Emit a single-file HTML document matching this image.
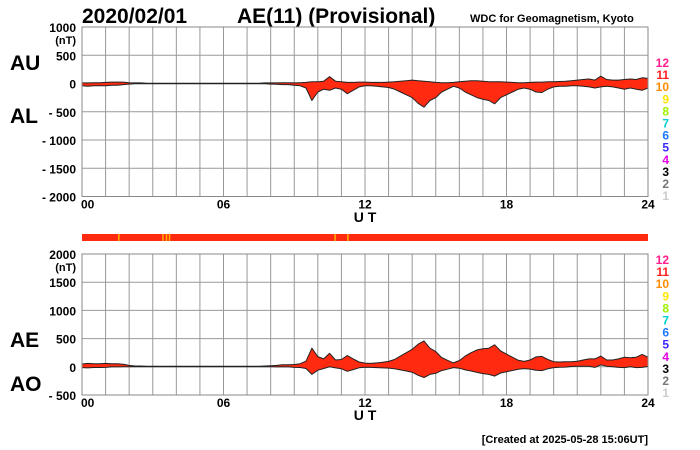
<!DOCTYPE html>
<html><head><meta charset="utf-8"><style>
body{margin:0;background:#fff;width:700px;height:450px;overflow:hidden}
svg{display:block;font-family:"Liberation Sans",Arial,sans-serif}
</style></head><body>
<svg id="chart" width="700" height="450" viewBox="0 0 700 450">
<text x="82" y="23" font-size="21" font-weight="bold">2020/02/01</text>
<text x="237" y="23" font-size="21" font-weight="bold">AE(11) (Provisional)</text>
<text x="470" y="22" font-size="11" font-weight="bold">WDC for Geomagnetism, Kyoto</text>
<text x="10" y="70" font-size="21" font-weight="bold">AU</text>
<text x="10" y="123" font-size="21" font-weight="bold">AL</text>
<text x="10" y="347" font-size="21" font-weight="bold">AE</text>
<text x="10" y="391" font-size="21" font-weight="bold">AO</text>
<text x="365" y="222" font-size="14" font-weight="bold" text-anchor="middle">U T</text>
<text x="365" y="420" font-size="14" font-weight="bold" text-anchor="middle">U T</text>
<text x="648" y="443" font-size="11" font-weight="bold" text-anchor="end">[Created at 2025-05-28 15:06UT]</text>
<rect x="82" y="234" width="566" height="7" fill="#ff2a10"/>
<g id="g"></g>
</svg>
<script>
const hours=[0,6,12,18,24];
const topTicks=[1000,500,0,-500,-1000,-1500,-2000];
const botTicks=[2000,1500,1000,500,0,-500];
const legendNums=[12,11,10,9,8,7,6,5,4,3,2,1];
const legendColors=["#ff1e8c","#ff1e1e","#ff8c00","#ffe600","#a0f000","#00d0d0","#1e78ff","#3c28ff","#e600e6","#000","#777","#ccc"];
const flagHours=[1.53,3.4,3.55,3.68,10.7,11.24];
const AU=[10,10,15,15, 20,25,25,25, 15,10,10,5, 5,5,5,5, 5,5,5,5, 5,5,5,5, 5,5,5,5, 5,5,5,10, 10,10,15,15, 10,15,20,30, 30,40,120,40, 30,20,20,25, 25,20,20,20, 25,30,40,50, 60,50,40,30, 20,15,15,20, 30,40,50,50, 40,30,30,30, 25,20,15,15, 20,25,25,30, 30,35,40,50, 60,70,80,60, 130,70,60,60, 70,80,70,100, 90];
const AL=[-40,-50,-40,-40, -40,-30,-30,-20, -10,-5,-5,-5, -5,-5,-5,-5, -5,-5,-5,-5, -5,-5,-5,-5, -5,-5,-5,-5, -5,-5,-5,-5, -10,-15,-20,-20, -30,-40,-80,-300, -150,-100,-120,-80, -100,-180,-120,-60, -40,-40,-50,-60, -70,-100,-150,-200, -250,-350,-420,-300, -250,-150,-100,-50, -80,-150,-200,-250, -280,-300,-360,-250, -200,-150,-100,-80, -100,-150,-160,-100, -60,-50,-50,-40, -40,-50,-60,-80, -60,-50,-60,-80, -100,-80,-100,-120, -80];
const NS="http://www.w3.org/2000/svg";
const g=document.getElementById('g');
function mk(t,a,p){const e=document.createElementNS(NS,t);for(const k in a)e.setAttribute(k,a[k]);(p||g).appendChild(e);return e;}
const X0=82,X1=648;
const xs=h=>X0+(X1-X0)*h/24;
function drawPanel(ytop,ybot,vmax,vmin,ticks,upper,lower,pfx,legTop){
  const ys=v=>ytop+(vmax-v)/(vmax-vmin)*(ybot-ytop);
  for(let h=0;h<=24;h++){
    const l=mk('line',{x1:xs(h),x2:xs(h),y1:ytop,y2:ybot,stroke:'#999','stroke-width':1});
    
    
  }
  ticks.forEach((v,i)=>{
    const l=mk('line',{x1:X0,x2:X1,y1:ys(v),y2:ys(v),stroke:'#999','stroke-width':1});
    
    
    const t=mk('text',{x:76,y:ys(v)+5,'font-size':12,'font-weight':'bold','text-anchor':'end'});
    t.textContent=v<0?'- '+(-v):String(v);
    
    
  });
  const u=mk('text',{x:76,y:ys(ticks[0])+17,'font-size':11,'font-weight':'bold','text-anchor':'end'});
  u.textContent='(nT)';
  
  
  hours.forEach(h=>{
    const t=mk('text',{x:h===0?X0-1:xs(h),y:ybot+12,'font-size':12,'font-weight':'bold','text-anchor':h===0?'start':'middle'});
    t.textContent=String(h).padStart(2,'0');
    
    
  });
  const n=upper.length,st=24/(n-1);
  let d='';
  for(let i=0;i<n;i++)d+=(i?'L':'M')+xs(i*st).toFixed(1)+','+ys(upper[i]).toFixed(1);
  for(let i=n-1;i>=0;i--)d+='L'+xs(i*st).toFixed(1)+','+ys(lower[i]).toFixed(1);
  const p=mk('path',{d:d+'Z',fill:'#ff2a10',stroke:'#222','stroke-width':1,'stroke-linejoin':'round'});
  
  
  const r=mk('rect',{x:X0,y:ytop,width:X1-X0,height:ybot-ytop,fill:'none',stroke:'#888'});
  
  
  legendNums.forEach((nm,i)=>{
    const t=mk('text',{x:669,y:legTop+i*12.1,'font-size':12,'font-weight':'bold','text-anchor':'end',fill:legendColors[i]});
    t.textContent=nm;
    
    
  });
}
drawPanel(27,196.5,1000,-2000,topTicks,AU,AL,'top',67);
const AE=AU.map((u,i)=>u-AL[i]);
const AO=AU.map((u,i)=>(u+AL[i])/2);
drawPanel(254,395,2000,-500,botTicks,AE,AO,'bottom',264);
flagHours.forEach(h=>{
  const l=mk('rect',{x:xs(h),y:234,width:1.5,height:7,fill:'#ffb000'});
  
  
});
</script>
</body></html>
